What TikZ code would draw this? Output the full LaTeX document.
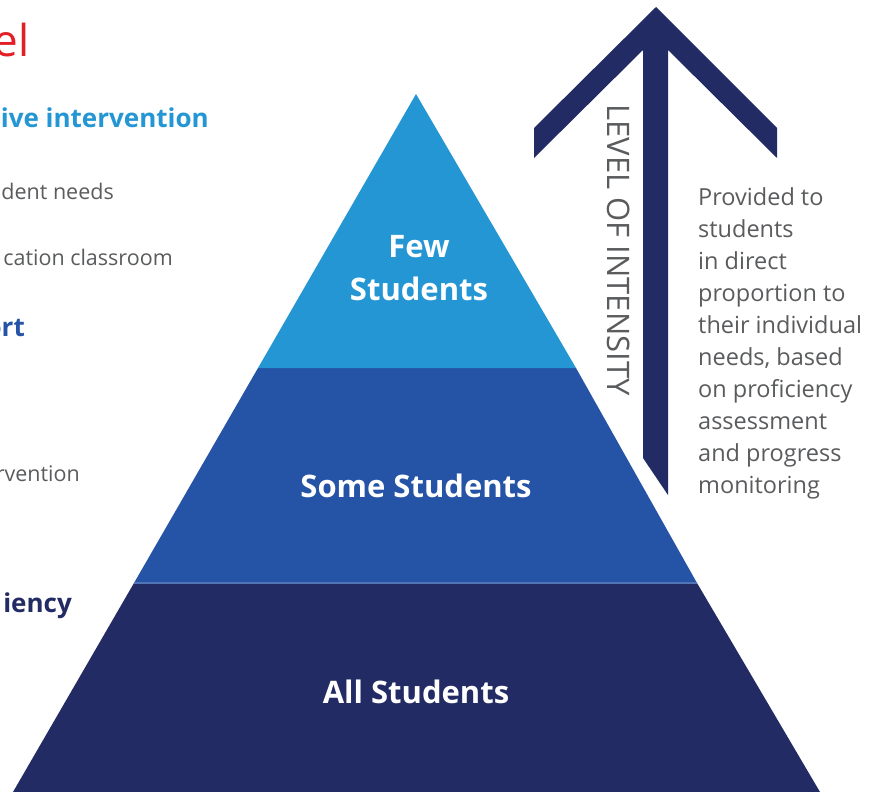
\documentclass[tikz,border=0pt]{standalone}
\usepackage{fontspec}
\setmainfont{Open Sans}
\usetikzlibrary{positioning}

\definecolor{fewblue}{HTML}{2396D3}
\definecolor{someblue}{HTML}{2553A5}
\definecolor{allnavy}{HTML}{222B63}
\definecolor{textgray}{HTML}{5A5B5D}
\definecolor{titlered}{HTML}{E31E24}

\begin{document}
\begin{tikzpicture}[x=1pt, y=-1pt, inner sep=0pt,
        tier node/.style={text=white,font=\bfseries\fontsize{31}{43}\selectfont,align=center},
        side node/.style={text=textgray,font=\fontsize{23.5}{32.1}\selectfont,align=left},
        cut node/.style={anchor=east,text=textgray,font=\fontsize{21.5}{26}\selectfont},
        head node/.style={anchor=east,font=\bfseries\fontsize{26}{30}\selectfont}]

        \useasboundingbox (0,0) rectangle (875,792);

        % pyramid
        \fill[allnavy] (134,583) -- (697,583) -- (820,792) -- (13,792) -- cycle;
        \fill[someblue] (258,368) -- (576,368) -- (697,583) -- (134,583) -- cycle;
        \fill[fewblue] (416,94) -- (576,368) -- (258,368) -- cycle;
        \draw[line width=1.2pt, color=someblue!80!white] (134,583) -- (697,583);

        \node[tier node] (few) at (419,268) {Few\\Students};
        \node[tier node] (some) at (416,486) {Some Students};
        \node[tier node] (all) at (416,692) {All Students};

        % arrow
        \fill[allnavy] (656,7) -- (777,128) -- (777,158) -- (668,50) -- (668,495)
                -- (643,458) -- (643,50) -- (534,158) -- (534,128) -- cycle;
        \node[rotate=-90, text=textgray, font=\fontsize{31}{34}\selectfont] (level) at (619,250) {LEVEL OF INTENSITY};

        \node[side node, anchor=north west] (provided) at (698,187) {Provided to\\students\\in direct\\proportion to\\their individual\\needs, based\\on proficiency\\assessment\\and progress\\monitoring};

        % cut off text on the left
        \node[anchor=east, text=titlered, font=\fontsize{44}{48}\selectfont] (title) at (30,40) {el};
        \node[head node, text=fewblue] (tier3) at (209,118) {ive intervention};
        \node[cut node] (needs) at (114,191) {dent needs};
        \node[cut node] (room) at (173,257) {cation classroom};
        \node[head node, text=someblue] (tier2) at (25,328) {ort};
        \node[cut node] (interv) at (80,474) {rvention};
        \node[head node, text=allnavy] (tier1) at (72,606) {iency};
\end{tikzpicture}
\end{document}
